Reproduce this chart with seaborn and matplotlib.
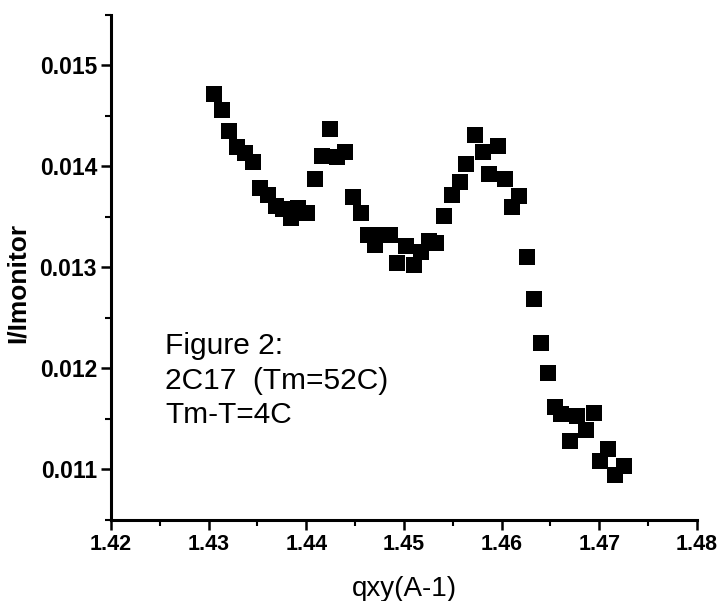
import matplotlib
matplotlib.use("Agg")
import matplotlib.pyplot as plt
from matplotlib.ticker import MultipleLocator, FormatStrFormatter
import seaborn as sns
import pandas as pd

# data
q_xy = [1.4306, 1.4314, 1.4321, 1.4329, 1.4337, 1.4345, 1.4353, 1.4361, 1.4369, 1.4376,
        1.4384, 1.4392, 1.4401, 1.4409, 1.4416, 1.4424, 1.4431, 1.4440, 1.4448, 1.4456,
        1.4463, 1.4470, 1.4478, 1.4486, 1.4493, 1.4502, 1.4510, 1.4517, 1.4526, 1.4533,
        1.4541, 1.4549, 1.4557, 1.4564, 1.4573, 1.4581, 1.4587, 1.4596, 1.4603, 1.4611,
        1.4618, 1.4626, 1.4633, 1.4640, 1.4648, 1.4655, 1.4661, 1.4670, 1.4677, 1.4686,
        1.4695, 1.4701, 1.4709, 1.4716, 1.4725]
intensity = [0.01472, 0.01456, 0.01435, 0.01419, 0.01413, 0.01404, 0.01379, 0.01372, 0.01361, 0.01358,
             0.01349, 0.01359, 0.01354, 0.01388, 0.01410, 0.01437, 0.01409, 0.01414, 0.01370, 0.01354,
             0.01332, 0.01322, 0.01332, 0.01332, 0.01304, 0.01321, 0.01302, 0.01315, 0.01326, 0.01324,
             0.01351, 0.01372, 0.01385, 0.01402, 0.01431, 0.01414, 0.01393, 0.01420, 0.01388, 0.01360,
             0.01371, 0.01310, 0.01269, 0.01225, 0.01196, 0.01162, 0.01155, 0.01128, 0.01153, 0.01139,
             0.01156, 0.01108, 0.01120, 0.01095, 0.01103]
x_label = "qxy(A-1)"
y_label = "I/Imonitor"
note = "Figure 2:\n2C17  (Tm=52C)\nTm-T=4C"

sns.set_style("ticks")
plt.rcParams["font.family"] = ["Liberation Sans", "DejaVu Sans"]
# plain black text like the scanned original
for key in ["text.color", "axes.labelcolor", "xtick.color", "ytick.color"]:
    plt.rcParams[key] = "black"

df = pd.DataFrame({"q": q_xy, "I": intensity})

fig = plt.figure(figsize=(7.22, 6.01), dpi=100)
ax = fig.add_axes([0.1537, 0.1348, 0.8116, 0.8403])

sns.scatterplot(data=df, x="q", y="I", marker="s", s=135, color="black",
                linewidth=0, ax=ax)

ax.set_xlim(1.42, 1.48)
ax.set_ylim(0.0105, 0.0155)
ax.xaxis.set_major_locator(MultipleLocator(0.01))
ax.xaxis.set_minor_locator(MultipleLocator(0.005))
ax.yaxis.set_major_locator(MultipleLocator(0.001))
ax.yaxis.set_minor_locator(MultipleLocator(0.0005))
ax.xaxis.set_major_formatter(FormatStrFormatter("%.2f"))
ax.yaxis.set_major_formatter(FormatStrFormatter("%.3f"))

# only left and bottom axis lines, like the original
sns.despine(ax=ax)
for side in ["left", "bottom"]:
    ax.spines[side].set_linewidth(2.2)
    ax.spines[side].set_color("black")
ax.tick_params(which="major", length=7, width=1.8, color="black", pad=3)
ax.tick_params(which="minor", length=4, width=1.5, color="black")
ax.tick_params(axis="y", labelsize=16.5)
ax.tick_params(axis="x", labelsize=15.5)
for lbl in ax.get_xticklabels() + ax.get_yticklabels():
    lbl.set_fontweight("bold")

ax.set_xlabel(x_label, fontsize=20, labelpad=15)
ax.set_ylabel("")
fig.text(0.024, 0.53, y_label, rotation=90, ha="center", va="center",
         fontsize=19, fontweight="bold")

ax.text(0.092, 0.372, note, transform=ax.transAxes, ha="left", va="top",
        fontsize=21.5, linespacing=1.3)

fig.savefig("out.png", dpi=100)
